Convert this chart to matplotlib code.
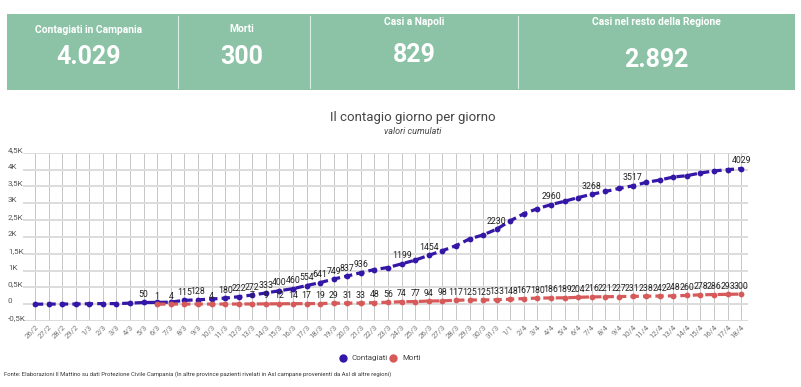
import numpy as np
import matplotlib
matplotlib.use("Agg")
import matplotlib.pyplot as plt
from matplotlib.patches import Rectangle
from matplotlib.lines import Line2D

# ---------------- data ----------------
dates = ["26/2", "27/2", "28/2", "29/2",
         "1/3", "2/3", "3/3", "4/3", "5/3", "6/3", "7/3", "8/3", "9/3", "10/3",
         "11/3", "12/3", "13/3", "14/3", "15/3", "16/3", "17/3", "18/3", "19/3", "20/3",
         "21/3", "22/3", "23/3", "24/3", "25/3", "26/3", "27/3", "28/3", "29/3", "30/3",
         "31/3", "1/1", "2/4", "3/4", "4/4", "5/4", "6/4", "7/4", "8/4", "9/4", "10/4",
         "11/4", "12/4", "13/4", "14/4", "15/4", "16/4", "17/4", "18/4"]

contagiati = [0, 3, 4, 4,
              13, 17, 17, 31, 50, 54, 60, 115, 128, 154,
              180, 222, 272, 333, 400, 460, 554, 641, 749, 837,
              936, 1030, 1090, 1199, 1310, 1454, 1590, 1740, 1940, 2060,
              2230, 2480, 2690, 2840, 2960, 3060, 3170, 3268, 3350, 3440, 3517,
              3620, 3690, 3780, 3820, 3900, 3960, 4000, 4029]

morti = [np.nan] * 9 + [1, 4, 4, 4, 4,
                        4, 5, 7, 9, 12, 14, 17, 19, 29, 31,
                        33, 48, 56, 74, 77, 94, 98, 117, 125, 125,
                        133, 148, 167, 180, 186, 189, 204, 216, 221, 227, 231,
                        238, 242, 248, 260, 278, 286, 293, 300]

# dates whose value label is visible in the chart
contagiati_label_dates = ["5/3", "8/3", "9/3", "11/3", "12/3", "13/3", "14/3", "15/3",
                          "16/3", "17/3", "18/3", "19/3", "20/3", "21/3", "24/3",
                          "26/3", "31/3", "4/4", "7/4", "10/4", "18/4"]
morti_hidden_label_dates = ["8/3", "9/3", "11/3", "12/3"]

yticks = [-500, 0, 500, 1000, 1500, 2000, 2500, 3000, 3500, 4000, 4500]
ytick_labels = ["-0,5K", "0", "0,5K", "1K", "1,5K", "2K", "2,5K", "3K", "3,5K", "4K", "4,5K"]

kpi_titles = ["Contagiati in Campania", "Morti", "Casi a Napoli", "Casi nel resto della Regione"]
kpi_values = ["4.029", "300", "829", "2.892"]

series_names = ["Contagiati", "Morti"]

# ---------------- figure ----------------
W, H = 801, 387
fig = plt.figure(figsize=(W / 100, H / 100), dpi=100)

def fx(px):
    return px / W

def fy(py):
    return 1 - py / H

GREEN = "#8cc3a7"
BLUE = "#3417a6"
RED = "#d75a5a"
kpi_font = ["Roboto", "DejaVu Sans"]
font = ["Roboto", "DejaVu Sans"]

# KPI panel
fig.patches.append(Rectangle((fx(7), fy(90)), fx(788), fy(14) - fy(90),
                             transform=fig.transFigure, facecolor=GREEN,
                             edgecolor="none", zorder=0))
for xd in [178, 310, 518]:
    fig.add_artist(Line2D([fx(xd), fx(xd)], [fy(16), fy(88)], transform=fig.transFigure,
                          color="#d8ece1", lw=0.8))
box_centers = [89, 242, 414, 656]
title_y = [30, 29, 22, 22]
value_y = [57, 57, 55, 60]
for cx, t, v, ty, vy in zip(box_centers, kpi_titles, kpi_values, title_y, value_y):
    fig.text(fx(cx), fy(ty), t, ha="center", va="center", color="white",
             fontsize=7.4, fontweight="bold", family=kpi_font)
    fig.text(fx(cx), fy(vy), v, ha="center", va="center", color="white",
             fontsize=18, fontweight="bold", family=kpi_font)

# titles
fig.text(fx(413), fy(118), "Il contagio giorno per giorno", ha="center", va="center",
         color="#444444", fontsize=9.5, family=font)
fig.text(fx(413), fy(132), "valori cumulati", ha="center", va="center",
         color="#444444", fontsize=6.5, style="italic", family=font)

# ---------------- chart ----------------
ax_left, ax_right, ax_top, ax_bottom = 23, 748, 152.8, 321
ax = fig.add_axes([fx(ax_left), fy(ax_bottom), fx(ax_right - ax_left), fy(ax_top) - fy(ax_bottom)])
x = np.arange(len(dates))
ax.set_xlim(-0.88, len(dates) - 0.5)
ax.set_ylim(min(yticks), max(yticks))

for s in ax.spines.values():
    s.set_visible(False)
ax.set_yticks(yticks)
ax.set_yticklabels([])
ax.tick_params(axis="y", length=0)
ax.set_xticks(x)
ax.set_xticklabels(dates, rotation=45, ha="right", va="top", fontsize=5.6,
                   color="#777777", rotation_mode="anchor")
ax.tick_params(axis="x", length=0, pad=2)
for lab in ax.get_xticklabels():
    lab.set_family(font)

ax.grid(axis="y", color="#dcdcdc", lw=1.4)
ax.grid(axis="x", color="#bdbdbd", lw=0.6)
ax.set_axisbelow(True)

ytrans = matplotlib.transforms.blended_transform_factory(fig.transFigure, ax.transData)
for v, lab in zip(yticks, ytick_labels):
    fig.text(fx(8), v, lab, transform=ytrans, ha="left", va="bottom", fontsize=5.8,
             color="#555555", family=font)

dash = (0, (2.6, 1.3))
ax.plot(x, contagiati, color=BLUE, lw=2.3, linestyle=dash, marker="o", ms=4.2,
        markeredgewidth=0, zorder=3)
ax.plot(x, morti, color=RED, lw=2.3, linestyle=dash, marker="o", ms=4.2,
        markeredgewidth=0, zorder=3)

for i, d in enumerate(dates):
    if d in contagiati_label_dates:
        ax.annotate(str(contagiati[i]), (x[i], contagiati[i]), xytext=(0, 2.5),
                    textcoords="offset points", ha="center", va="bottom",
                    fontsize=6.3, color="#222222", zorder=4, family=font)
    if not np.isnan(morti[i]) and d not in morti_hidden_label_dates:
        ax.annotate(str(int(morti[i])), (x[i], morti[i]), xytext=(0, 2.5),
                    textcoords="offset points", ha="center", va="bottom",
                    fontsize=6.3, color="#222222", zorder=4, family=font)

# legend
for cx, col, name in [(343, BLUE, series_names[0]), (393, RED, series_names[1])]:
    fig.add_artist(Line2D([fx(cx)], [fy(358)], transform=fig.transFigure, marker="o",
                          ms=6, color=col, markeredgewidth=0, linestyle="none"))
    fig.text(fx(cx + 9), fy(358), name, ha="left", va="center", fontsize=5.8,
             color="#444444", family=font)

fig.text(fx(4), fy(374),
         "Fonte: Elaborazioni Il Mattino su dati Protezione Civile Campania (In altre province pazienti rivelati in Asl campane provenienti da Asl di altre regioni)",
         ha="left", va="center", fontsize=4.2, color="#333333", family=font)

fig.savefig("out.png", dpi=100)
